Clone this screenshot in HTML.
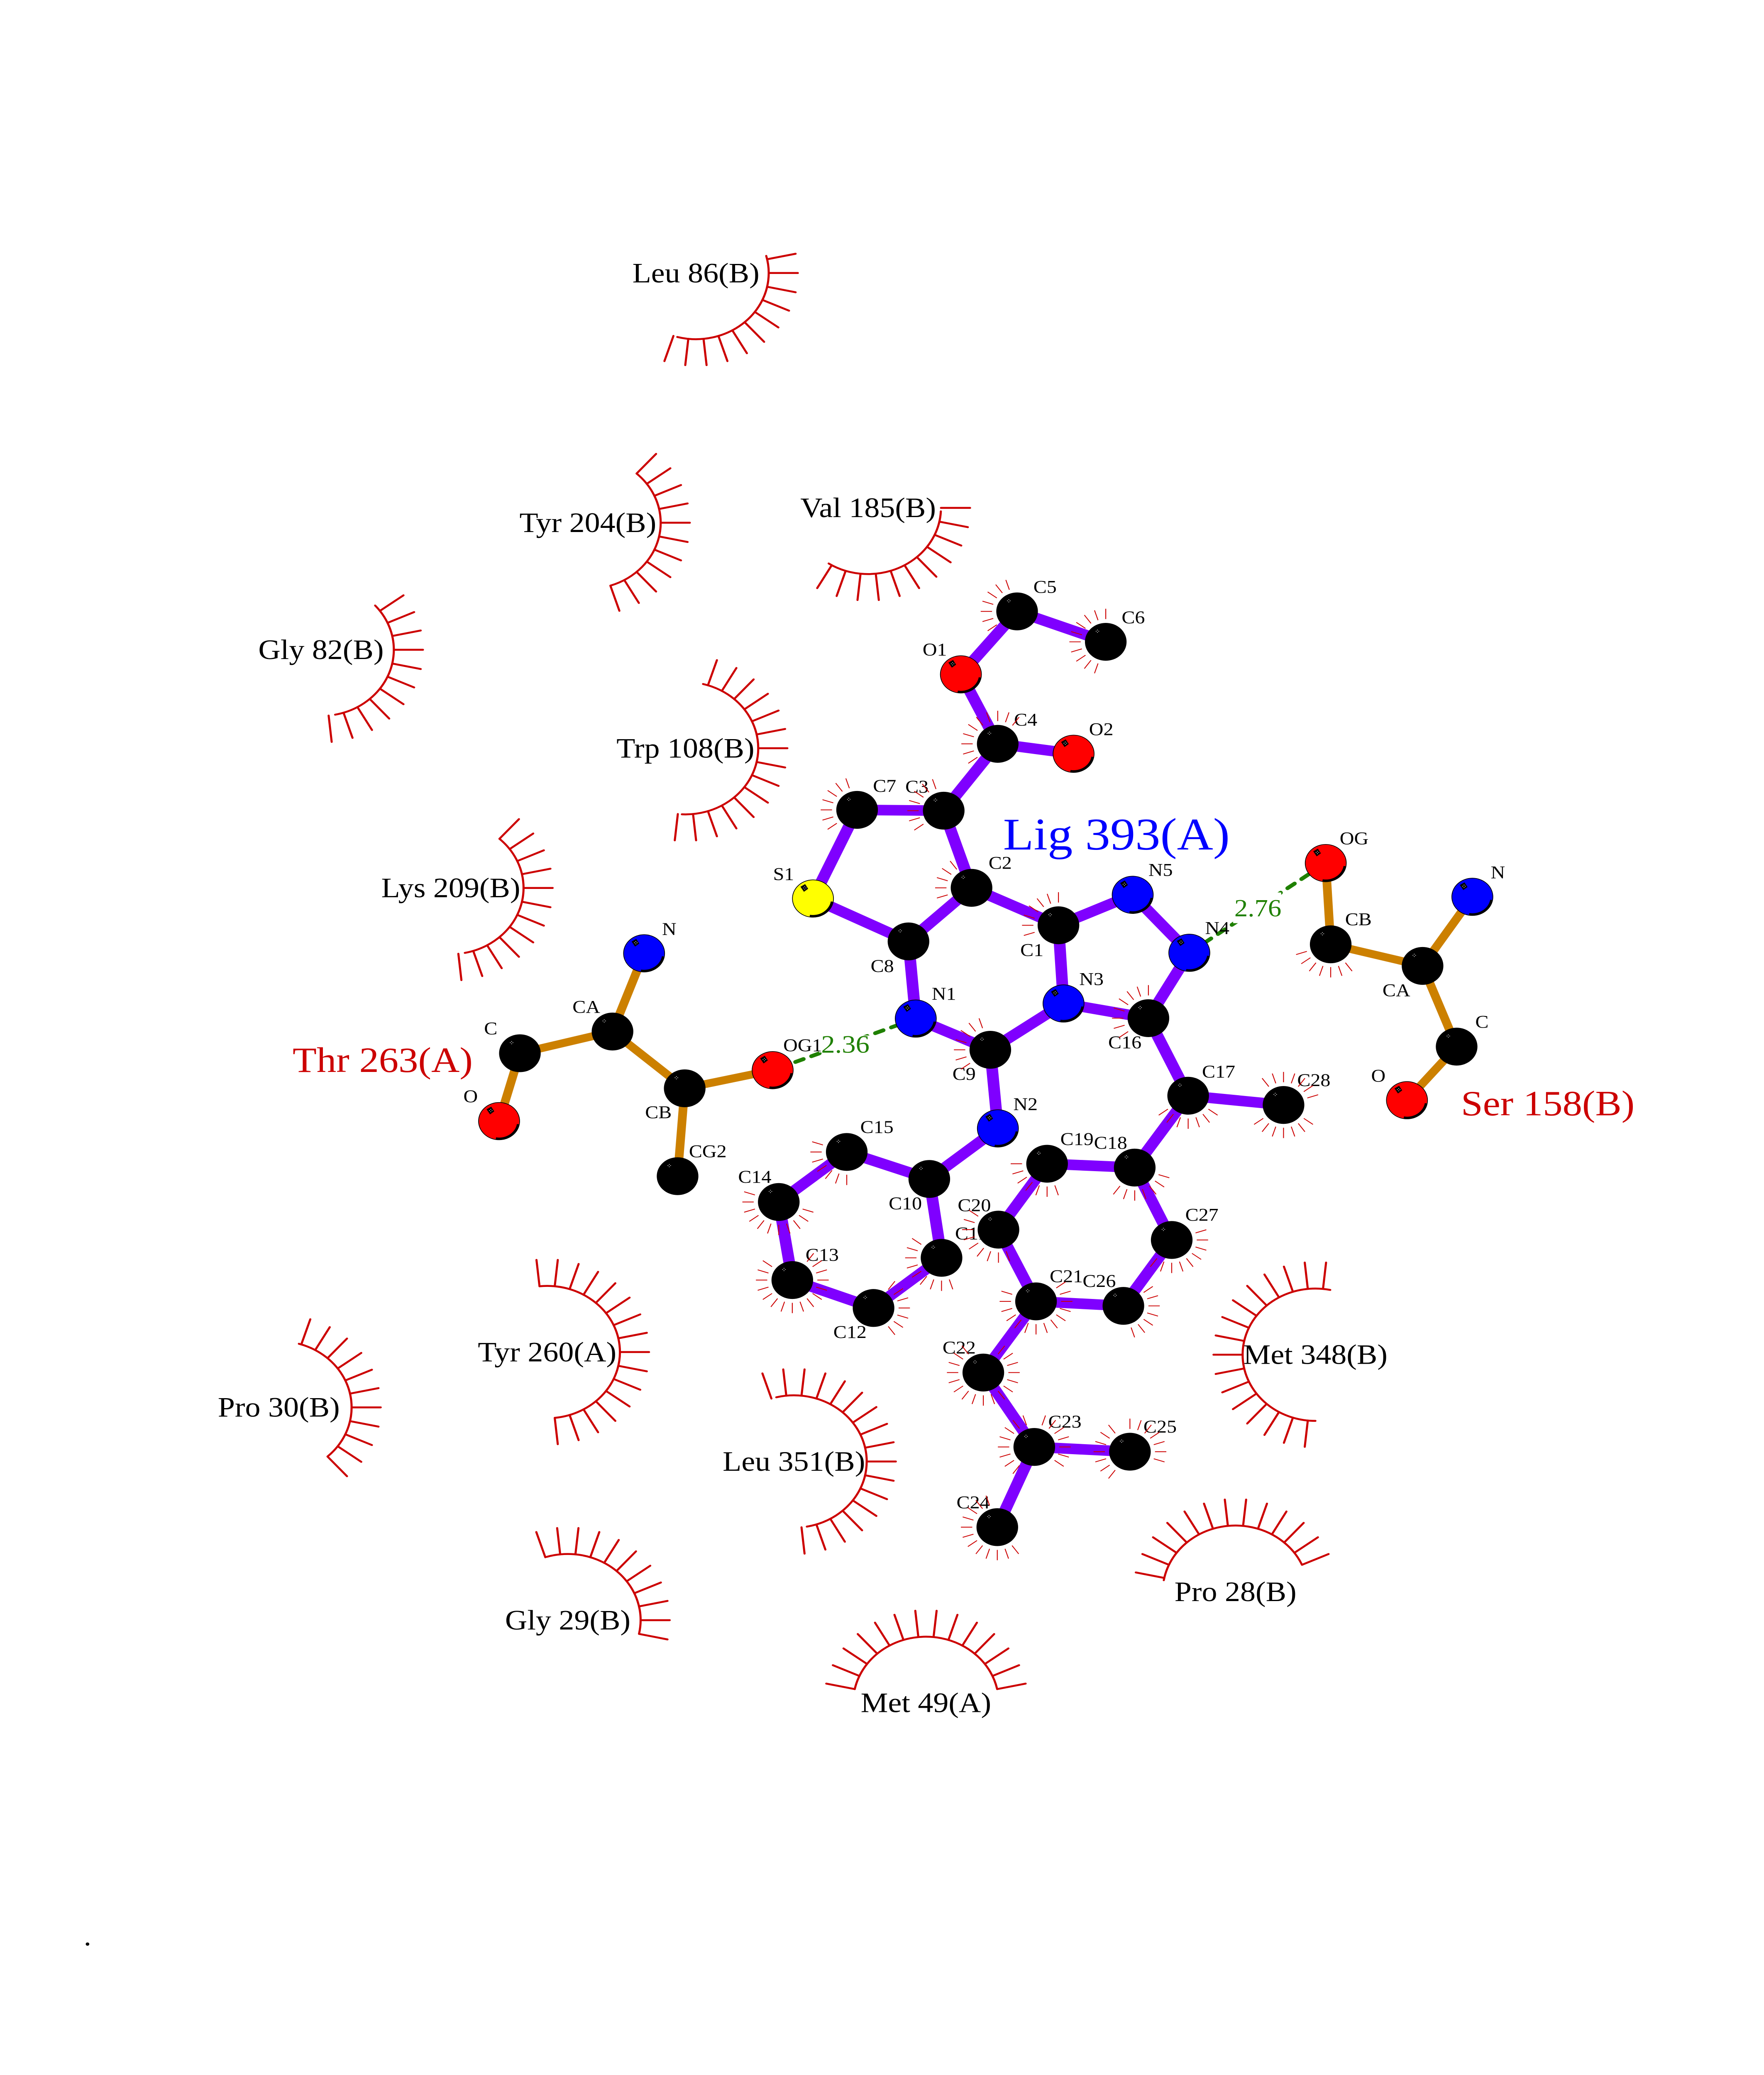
<!DOCTYPE html>
<html><head><meta charset="utf-8"><title>Lig 393(A)</title>
<style>
html,body{margin:0;padding:0;background:#fff;width:100vw;height:100vh;overflow:hidden}
svg{display:block;position:fixed;left:0;top:0;width:100vw;height:100vh;overflow:hidden}
text{font-family:"Liberation Serif","Times New Roman",serif;fill:#000}
.a text{font-size:13.7px}
.r text{font-size:21.1px;text-anchor:middle}
.comb{stroke:#c00;stroke-width:1.45;stroke-linecap:round;fill:none}
.tk{stroke:#c00;stroke-width:.62;fill:none}
</style></head><body>
<svg xmlns="http://www.w3.org/2000/svg" viewBox="0 0 1211.62 1568" preserveAspectRatio="none">
<defs>
<line id="k1" x1="50" x2="70"/>
<g id="k2"><use href="#k1"/><use href="#k1" transform="rotate(12)"/></g>
<g id="k4"><use href="#k2"/><use href="#k2" transform="rotate(24)"/></g>
<g id="k8"><use href="#k4"/><use href="#k4" transform="rotate(48)"/></g>
<g id="k11"><use href="#k8"/><use href="#k2" transform="rotate(96)"/><use href="#k1" transform="rotate(120)"/></g>
<g id="k12"><use href="#k11"/><use href="#k1" transform="rotate(132)"/></g>
<g id="k13"><use href="#k11"/><use href="#k2" transform="rotate(132)"/></g>
<g id="k14"><use href="#k13"/><use href="#k1" transform="rotate(156)"/></g>
<g id="k15"><use href="#k13"/><use href="#k2" transform="rotate(156)"/></g>
<g id="k16"><use href="#k8"/><use href="#k8" transform="rotate(96)"/></g>
<g id="k17"><use href="#k16"/><use href="#k1" transform="rotate(192)"/></g>

<line id="s1" x1="17.2" x2="25"/>
<g id="s2"><use href="#s1"/><use href="#s1" transform="rotate(18)"/></g>
<g id="s4"><use href="#s2"/><use href="#s2" transform="rotate(36)"/></g>
<g id="s8"><use href="#s4"/><use href="#s4" transform="rotate(72)"/></g>
<g id="s5"><use href="#s4"/><use href="#s1" transform="rotate(72)"/></g>
<g id="s7"><use href="#s4"/><use href="#s2" transform="rotate(72)"/><use href="#s1" transform="rotate(108)"/></g>
<g id="s9"><use href="#s8"/><use href="#s1" transform="rotate(144)"/></g>
<g id="s10"><use href="#s8"/><use href="#s2" transform="rotate(144)"/></g>
<g id="s11"><use href="#s10"/><use href="#s1" transform="rotate(180)"/></g>
<g id="s12"><use href="#s8"/><use href="#s4" transform="rotate(144)"/></g>
<g id="s14"><use href="#s12"/><use href="#s2" transform="rotate(216)"/></g>
<g id="s16"><use href="#s8"/><use href="#s8" transform="rotate(144)"/></g>
<g id="s17"><use href="#s16"/><use href="#s1" transform="rotate(288)"/></g>

<g id="sp" fill="#fff"><circle cx="-6.6" cy="-8" r=".28"/><circle cx="-4.8" cy="-8" r=".28"/><circle cx="-5.7" cy="-8.9" r=".28"/><circle cx="-5.7" cy="-7.1" r=".28"/></g>
<g id="b"><circle r="14.3" fill="#000"/><use href="#sp"/></g>
<g id="h">
<circle r="14.1" stroke="#000" stroke-width=".5"/>
<circle r="13.2" fill="none" stroke="#000" stroke-width="1.5" pathLength="360" stroke-dasharray="90 400" transform="rotate(10)"/>
<polygon points="-8.6,-8.9 -5.4,-10.9 -3.3,-7.4 -6.2,-5.1" fill="#000"/>
<use href="#sp"/>
</g>
</defs>

<!-- protein bonds -->
<path fill="none" stroke="#cc8000" stroke-width="6" d="M442.4 720.4L420.7 779.5M420.7 779.5L357.1 795.9M357.1 795.9L342.8 847.2M420.7 779.5L470.3 822.4M470.3 822.4L530.7 808.7M470.3 822.4L465.4 888.8M910.6 652.2L914 713.6M914 713.6L977.1 729.9M977.1 729.9L1011.3 677.7M977.1 729.9L1000.5 790.9M1000.5 790.9L966.4 831.4"/>

<!-- ligand bonds -->
<path fill="none" stroke="#7f00ff" stroke-width="8" d="M660 509.6L698.6 462M698.6 462L759.5 485M660 509.6L685.3 562.1M685.3 562.1L737.4 569.6M685.3 562.1L648.2 612.6M648.2 612.6L588.7 612M588.7 612L558.4 679M648.2 612.6L667.3 670.9M558.4 679L624 711.4M624 711.4L667.3 670.9M667.3 670.9L727 699.2M727 699.2L778 676.2M778 676.2L816.9 720M727 699.2L730.5 758.3M730.5 758.3L788.8 769.4M788.8 769.4L816.9 720M730.5 758.3L680.2 793.3M624 711.4L629 769.7M629 769.7L680.2 793.3M680.2 793.3L685.4 852.7M685.4 852.7L638.3 890.9M638.3 890.9L581.6 870.5M581.6 870.5L534.9 908.3M534.9 908.3L544.2 967.3M544.2 967.3L600 988.4M600 988.4L646.7 950.5M646.7 950.5L638.3 890.9M788.8 769.4L816.1 828M816.1 828L881.6 835M816.1 828L779.4 882.3M779.4 882.3L719.2 879.4M719.2 879.4L685.8 929.2M685.8 929.2L711.6 983.4M711.6 983.4L771.6 986.8M771.6 986.8L804.8 937M804.8 937L779.4 882.3M711.6 983.4L675.4 1037.2M675.4 1037.2L710.4 1093.4M710.4 1093.4L776.1 1097M710.4 1093.4L685 1154"/>

<!-- hydrogen bonds -->
<g fill="none" stroke="#1f8000" stroke-width="2.9" stroke-linecap="round" stroke-dasharray="6 5.8">
<path stroke-dashoffset="-5" d="M530.7 808.7L629 769.7"/>
<path stroke-dashoffset="-2.8" d="M910.6 652.2L816.9 720"/>
</g>
<rect x="562.5" y="782.5" width="35" height="12.8" fill="#fff"/>
<rect x="847" y="674.4" width="33" height="23.2" fill="#fff"/>
<text x="564" y="795.4" font-size="19" style="fill:#1f8000">2.36</text>
<text x="847.8" y="692.5" font-size="18.5" style="fill:#1f8000">2.76</text>

<!-- atom labels -->
<g class="a">
<text x="709.8" y="447.9">C5</text><text x="770.4" y="471">C6</text><text x="633.7" y="495.3">O1</text>
<text x="696.5" y="548.3">C4</text><text x="748" y="555.6">O2</text><text x="599.6" y="598.3">C7</text>
<text x="621.8" y="598.9">C3</text><text x="531" y="665">S1</text><text x="679" y="656.6">C2</text>
<text x="700.8" y="722.4">C1</text><text x="598" y="734.4">C8</text><text x="640" y="755.5">N1</text>
<text x="538" y="794.4">OG1</text><text x="788.8" y="661.9">N5</text><text x="827.7" y="705.8">N4</text>
<text x="741.3" y="744.4">N3</text><text x="761.2" y="792.1">C16</text><text x="654.2" y="816">C9</text>
<text x="696" y="838.9">N2</text><text x="825.6" y="814.2">C17</text><text x="891" y="820.7">C28</text>
<text x="728.3" y="865.2">C19</text><text x="751.4" y="868">C18</text><text x="814.1" y="922.5">C27</text>
<text x="657.8" y="915.2">C20</text><text x="656" y="936.5">C11</text><text x="721" y="968.9">C21</text>
<text x="743.6" y="972.5">C26</text><text x="647.4" y="1022.8">C22</text><text x="720" y="1078.8">C23</text>
<text x="785.4" y="1082.5">C25</text><text x="657" y="1139.8">C24</text><text x="590.9" y="856.1">C15</text>
<text x="507" y="893.8">C14</text><text x="553.3" y="952.7">C13</text><text x="572.4" y="1011">C12</text>
<text x="610.4" y="913.9">C10</text>
<text x="454.7" y="706.5">N</text><text x="393.2" y="765.4">CA</text><text x="332.5" y="781.7">C</text>
<text x="318.3" y="833">O</text><text x="443.1" y="845">CB</text><text x="473.2" y="874.4">CG2</text>
<text x="920.2" y="638.1">OG</text><text x="923.9" y="699.2">CB</text><text x="1023.9" y="663.7">N</text>
<text x="949.6" y="752.8">CA</text><text x="1013.3" y="776.6">C</text><text x="941.8" y="817.4">O</text>
</g>

<!-- small hydrophobic ticks -->
<g class="tk">
<use href="#s7" transform="translate(698.6,462) rotate(144)"/>
<use href="#s10" transform="translate(759.5,485) rotate(108)"/>
<use href="#s10" transform="translate(685.3,562.1) rotate(144)"/>
<use href="#s7" transform="translate(588.7,612) rotate(144)"/>
<use href="#s7" transform="translate(648.2,612.6) rotate(144)"/>
<use href="#s5" transform="translate(667.3,670.9) rotate(162)"/>
<use href="#s7" transform="translate(727,699.2) rotate(162)"/>
<use href="#s7" transform="translate(680.2,793.3) rotate(144)"/>
<use href="#s8" transform="translate(788.8,769.4) rotate(144)"/>
<use href="#s7" transform="translate(816.1,828) rotate(36)"/>
<use href="#s7" transform="translate(881.6,835) rotate(36)"/>
<use href="#s7" transform="translate(881.6,835) rotate(234)"/>
<use href="#s7" transform="translate(719.2,879.4) rotate(72)"/>
<use href="#s7" transform="translate(779.4,882.3) rotate(18)"/>
<use href="#s9" transform="translate(804.8,937) rotate(-18)"/>
<use href="#s7" transform="translate(771.6,986.8) rotate(-36)"/>
<use href="#s14" transform="translate(711.6,983.4) rotate(-36)"/>
<use href="#s9" transform="translate(685.8,929.2) rotate(72)"/>
<use href="#s17" transform="translate(675.4,1037.2) rotate(-54)"/>
<use href="#s8" transform="translate(710.4,1093.4) rotate(126)"/>
<use href="#s7" transform="translate(710.4,1093.4) rotate(288)"/>
<use href="#s7" transform="translate(776.1,1097) rotate(126)"/>
<use href="#s7" transform="translate(776.1,1097) rotate(270)"/>
<use href="#s12" transform="translate(685,1154) rotate(54)"/>
<use href="#s7" transform="translate(581.6,870.5) rotate(90)"/>
<use href="#s11" transform="translate(534.9,908.3) rotate(18)"/>
<use href="#s16" transform="translate(544.2,967.3) rotate(-54)"/>
<use href="#s7" transform="translate(600,988.4) rotate(-54)"/>
<use href="#s9" transform="translate(646.7,950.5) rotate(72)"/>
<use href="#s7" transform="translate(914,713.6) rotate(54)"/>
</g>

<!-- atoms -->
<use href="#b" x="698.6" y="462"/><use href="#b" x="759.5" y="485"/><use href="#b" x="685.3" y="562.1"/>
<use href="#b" x="648.2" y="612.6"/><use href="#b" x="588.7" y="612"/><use href="#b" x="667.3" y="670.9"/>
<use href="#b" x="624" y="711.4"/><use href="#b" x="727" y="699.2"/><use href="#b" x="788.8" y="769.4"/>
<use href="#b" x="680.2" y="793.3"/><use href="#b" x="816.1" y="828"/><use href="#b" x="881.6" y="835"/>
<use href="#b" x="779.4" y="882.3"/><use href="#b" x="719.2" y="879.4"/><use href="#b" x="638.3" y="890.9"/>
<use href="#b" x="581.6" y="870.5"/><use href="#b" x="534.9" y="908.3"/><use href="#b" x="685.8" y="929.2"/>
<use href="#b" x="804.8" y="937"/><use href="#b" x="646.7" y="950.5"/><use href="#b" x="544.2" y="967.3"/>
<use href="#b" x="711.6" y="983.4"/><use href="#b" x="771.6" y="986.8"/><use href="#b" x="600" y="988.4"/>
<use href="#b" x="675.4" y="1037.2"/><use href="#b" x="710.4" y="1093.4"/><use href="#b" x="776.1" y="1097"/>
<use href="#b" x="685" y="1154"/>
<use href="#b" x="420.7" y="779.5"/><use href="#b" x="357.1" y="795.9"/><use href="#b" x="470.3" y="822.4"/>
<use href="#b" x="465.4" y="888.8"/><use href="#b" x="914" y="713.6"/><use href="#b" x="977.1" y="729.9"/>
<use href="#b" x="1000.5" y="790.9"/>

<use href="#h" x="660" y="509.6" fill="#f00"/><use href="#h" x="737.4" y="569.6" fill="#f00"/>
<use href="#h" x="530.7" y="808.7" fill="#f00"/><use href="#h" x="342.8" y="847.2" fill="#f00"/>
<use href="#h" x="910.6" y="652.2" fill="#f00"/><use href="#h" x="966.4" y="831.4" fill="#f00"/>
<use href="#h" x="558.4" y="679" fill="#ff0"/>
<use href="#h" x="778" y="676.2" fill="#00f"/><use href="#h" x="816.9" y="720" fill="#00f"/>
<use href="#h" x="730.5" y="758.3" fill="#00f"/><use href="#h" x="629" y="769.7" fill="#00f"/>
<use href="#h" x="685.4" y="852.7" fill="#00f"/><use href="#h" x="442.4" y="720.4" fill="#00f"/>
<use href="#h" x="1011.3" y="677.7" fill="#00f"/>

<!-- residue combs -->
<g class="comb">
<g transform="translate(478,206.3)"><use href="#k11" transform="rotate(-12)"/><circle r="50" pathLength="360" stroke-dasharray="120 400" transform="rotate(-15)"/></g>
<g transform="translate(403.8,395)"><use href="#k11" transform="rotate(-48)"/><circle r="50" pathLength="360" stroke-dasharray="120 400" transform="rotate(-48)"/></g>
<g transform="translate(596.3,383.8)"><use href="#k11"/><circle r="50" pathLength="360" stroke-dasharray="120 400" transform="rotate(3)"/></g>
<g transform="translate(470.8,565.4)"><use href="#k15" transform="rotate(-72)"/><circle r="50" pathLength="360" stroke-dasharray="169 400" transform="rotate(-76)"/></g>
<g transform="translate(220.5,491)"><use href="#k11" transform="rotate(-36)"/><circle r="50" pathLength="360" stroke-dasharray="121 400" transform="rotate(-42)"/></g>
<g transform="translate(309.6,671)"><use href="#k12" transform="rotate(-48)"/><circle r="50" pathLength="360" stroke-dasharray="127 400" transform="rotate(-48)"/></g>
<g transform="translate(191.5,1063.5)"><use href="#k11" transform="rotate(-72)"/><circle r="50" pathLength="360" stroke-dasharray="122 400" transform="rotate(-74)"/></g>
<g transform="translate(375.8,1021.7)"><use href="#k16" transform="rotate(-96)"/><circle r="50" pathLength="360" stroke-dasharray="180 400" transform="rotate(-96)"/></g>
<g transform="translate(390,1224.3)"><use href="#k11" transform="rotate(-108)"/><circle r="50" pathLength="360" stroke-dasharray="119 400" transform="rotate(-107)"/></g>
<g transform="translate(545.3,1104.4)"><use href="#k17" transform="rotate(-108)"/><circle r="50" pathLength="360" stroke-dasharray="184 400" transform="rotate(-104)"/></g>
<g transform="translate(636,1286.8)"><use href="#k14" transform="rotate(192)"/><circle r="50" pathLength="360" stroke-dasharray="156 400" transform="rotate(192)"/></g>
<g transform="translate(848.6,1202.8)"><use href="#k13" transform="rotate(192)"/><circle r="50" pathLength="360" stroke-dasharray="146 400" transform="rotate(190)"/></g>
<g transform="translate(903.5,1023.7)"><use href="#k16" transform="rotate(96)"/><circle r="50" pathLength="360" stroke-dasharray="192 400" transform="rotate(90)"/></g>
</g>

<!-- residue labels -->
<g class="r">
<text x="478" y="213.4">Leu 86(B)</text>
<text x="403.8" y="402">Tyr 204(B)</text>
<text x="596.3" y="390.8">Val 185(B)</text>
<text x="470.8" y="572.4">Trp 108(B)</text>
<text x="220.5" y="498">Gly 82(B)</text>
<text x="309.6" y="678">Lys 209(B)</text>
<text x="191.5" y="1070.5">Pro 30(B)</text>
<text x="375.8" y="1028.7">Tyr 260(A)</text>
<text x="390" y="1231.3">Gly 29(B)</text>
<text x="545.3" y="1111.4">Leu 351(B)</text>
<text x="636" y="1293.8">Met 49(A)</text>
<text x="848.6" y="1209.8">Pro 28(B)</text>
<text x="903.5" y="1030.7">Met 348(B)</text>
</g>

<text x="689" y="641.9" font-size="34.4" style="fill:#00f">Lig 393(A)</text>
<text x="201" y="810" font-size="27" style="fill:#c00">Thr 263(A)</text>
<text x="1003.5" y="842.8" font-size="27" style="fill:#c00">Ser 158(B)</text>
<text x="57.5" y="1470" font-size="21">.</text>
</svg>
</body></html>
